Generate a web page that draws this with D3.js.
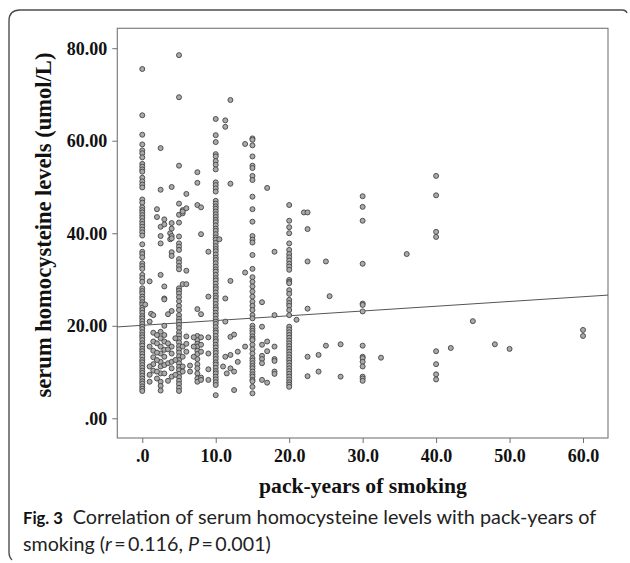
<!DOCTYPE html>
<html>
<head>
<meta charset="utf-8">
<script src="https://cdn.jsdelivr.net/npm/d3@7"></script>
<style>
  body { margin: 0; background: #fff; }
  svg { display: block; }
</style>
</head>
<body>
<script>
// hcy vs pack-years scatter, spss style

// tick stuff
var xTicks = [0, 10, 20, 30, 40, 50, 60];
var xTickLabels = ['.0', '10.0', '20.0', '30.0', '40.0', '50.0', '60.0'];
var yTicks = [0, 20, 40, 60, 80];
var yTickLabels = ['.00', '20.00', '40.00', '60.00', '80.00'];

// the stacked columns (pack-years value -> homocysteine readings)
var hcy0 = [75.5, 65.5, 61.3, 59.2, 57.9, 57.3, 56.4, 55.0, 54.4, 53.8, 53.3, 52.0, 51.2, 50.5, 49.9, 47.3, 46.6,
  45.6, 45.0, 44.5, 43.9, 43.3, 42.6, 42.0, 41.4, 40.8, 40.2, 39.5, 37.6, 36.0, 35.5, 34.8, 33.5, 32.9, 32.3, 31.0,
  30.3, 29.5, 28.1, 27.5, 27.0, 26.3, 25.8, 25.1, 24.6, 23.9, 23.4, 22.8, 22.1, 21.6, 21.0, 20.4, 19.8, 19.3, 18.6,
  18.0, 17.5, 16.9, 16.2, 15.7, 15.0, 14.5, 13.9, 13.3, 12.6, 12.1, 11.5, 10.9, 10.3, 9.8, 9.2, 8.6, 8.0, 7.5, 6.9,
  6.4, 5.9];
var hcy2_5 = [58.4, 49.4, 41.4, 39.4, 37.8, 31.0, 18.7, 17.3, 15.5, 14.0, 12.2, 11.2, 9.7, 7.9, 7.0, 6.0];
var hcy5 = [78.5, 69.4, 54.6, 46.4, 44.0, 42.3, 39.3, 37.8, 37.1, 36.4, 34.4, 33.7, 32.9, 32.2, 28.1, 27.6, 27.0,
  26.2, 25.3, 24.3, 23.4, 22.3, 21.5, 20.9, 20.2, 19.5, 18.6, 17.9, 17.2, 16.4, 15.6, 14.9, 14.2, 13.4, 12.6, 11.9,
  11.1, 10.4, 9.6, 8.9, 8.1, 7.4, 6.6, 5.9];
var hcy7_5 = [53.2, 50.9, 46.1, 23.6, 17.8, 16.9, 16.1, 15.5, 14.6, 13.9, 12.8, 11.7, 10.8, 9.7, 8.6, 7.9];
var hcy10 = [64.7, 61.2, 59.7, 57.1, 56.6, 55.6, 54.8, 53.8, 51.0, 50.4, 49.7, 49.0, 47.0, 46.4, 45.8, 45.3, 44.7,
  44.1, 43.5, 42.9, 42.4, 41.7, 41.0, 40.5, 39.8, 39.1, 38.6, 37.9, 37.2, 36.6, 36.1, 35.4, 34.7, 34.2, 33.5, 32.8,
  32.2, 31.7, 31.0, 30.3, 29.8, 29.1, 28.4, 27.9, 27.2, 26.5, 26.0, 25.4, 24.7, 24.0, 23.5, 22.8, 22.2, 21.5, 20.9,
  20.4, 19.7, 19.0, 18.5, 17.8, 17.1, 16.6, 15.9, 15.3, 14.6, 14.1, 13.4, 12.8, 12.1, 11.6, 10.9, 10.2, 9.7, 9.0,
  8.4, 7.8, 7.2, 5.0];
var hcy15 = [60.5, 60.2, 59.0, 56.6, 54.6, 54.1, 52.4, 51.5, 47.9, 45.2, 42.5, 39.4, 38.6, 38.0, 35.3, 32.3, 30.5,
  29.5, 28.5, 27.4, 26.3, 25.2, 24.3, 23.4, 22.3, 21.6, 20.0, 19.4, 18.9, 18.4, 17.7, 17.2, 16.9, 15.9, 14.9, 14.0,
  13.0, 12.5, 11.9, 11.3, 10.8, 10.1, 9.5, 9.0, 8.3, 8.0, 6.8, 5.4];
var hcy20 = [46.1, 42.7, 41.3, 40.0, 37.8, 36.4, 35.5, 34.8, 34.1, 33.4, 32.8, 32.1, 29.9, 29.5, 29.2, 27.7, 26.9,
  25.6, 24.9, 24.3, 23.4, 22.3, 19.8, 19.2, 18.6, 18.0, 17.4, 16.8, 16.2, 15.6, 15.0, 14.4, 13.8, 13.2, 12.6, 12.0,
  11.4, 10.8, 10.2, 9.6, 9.0, 8.4, 7.8, 7.3, 6.8];
var hcy30 = [48.0, 45.7, 42.7, 33.4, 24.8, 24.5, 23.1, 15.7, 13.3, 13.0, 12.2, 11.2, 9.0, 8.6, 8.1];
var hcy40 = [52.4, 48.2, 40.3, 39.2, 14.5, 11.7, 9.5, 8.4];

// everything that isnt on one of the big columns: [pack-years, hcy]
var otherPoints = [
  [0.4, 24.6], [1.0, 29.6], [1.2, 22.6], [1.0, 20.9], [1.5, 22.3], [1.5, 18.5], [1.5, 16.6], [1.5, 14.6], [1.5, 13.2],
  [1.5, 11.7], [1.5, 10.3], [1.0, 15.5], [1.0, 11.2], [1.0, 9.4], [1.0, 7.9],
  [2.0, 45.2], [2.0, 43.5], [2.0, 18.0], [2.0, 16.2], [2.0, 14.2], [2.0, 12.6], [2.0, 10.1], [2.0, 8.6],
  [3.0, 43.0], [3.0, 41.9], [3.0, 28.5], [3.0, 25.9], [3.0, 25.7], [3.0, 20.0], [3.0, 18.0], [3.0, 16.6], [3.0, 14.8],
  [3.0, 13.3], [3.0, 11.5], [3.0, 9.7], [3.5, 22.5], [3.5, 16.2], [3.5, 14.9], [3.5, 11.9], [3.5, 8.1],
  [3.8, 40.0], [3.8, 38.7], [4.0, 50.0], [4.0, 42.2], [4.0, 41.0], [4.0, 39.4], [4.0, 38.9], [4.0, 35.9], [4.0, 35.1],
  [4.0, 23.2], [4.0, 15.5], [4.0, 14.0], [4.0, 12.2], [4.0, 10.8], [4.0, 9.0], [4.5, 17.3], [4.5, 12.6], [4.5, 9.4],
  [5.5, 45.0], [5.5, 44.3], [5.5, 44.7], [5.5, 29.0], [5.5, 15.5], [5.5, 13.3], [5.5, 11.2], [5.5, 10.1],
  [6.0, 48.5], [6.0, 45.4], [6.0, 31.9], [6.0, 29.0], [6.0, 17.7], [6.0, 16.1], [6.0, 14.4], [6.5, 11.4], [6.5, 10.1],
  [7.0, 17.5], [7.0, 15.5], [7.0, 13.3], [8.0, 45.6], [8.0, 39.8], [8.0, 22.5], [8.0, 17.5], [8.0, 15.9], [8.0, 14.4],
  [8.0, 8.8], [8.0, 8.3], [9.0, 36.0], [9.0, 26.3], [9.0, 17.5], [9.0, 14.0], [9.0, 10.6], [9.0, 8.3],
  [10.5, 38.7], [11.0, 11.2], [11.3, 64.4], [11.3, 63.0], [11.3, 25.9], [11.3, 20.9], [11.3, 13.3], [11.5, 9.7],
  [12.0, 68.8], [12.0, 50.7], [12.0, 29.7], [12.0, 17.6], [12.0, 13.7], [12.0, 10.8], [12.5, 18.1], [12.5, 10.1],
  [12.5, 6.1], [13.0, 14.4], [13.0, 12.2], [14.0, 59.3], [14.0, 31.5], [14.0, 15.5],
  [16.3, 25.1], [16.3, 19.8], [16.3, 15.9], [16.3, 13.5], [16.3, 12.8], [16.3, 11.9], [16.3, 8.3],
  [17.0, 49.8], [17.0, 16.6], [17.0, 14.5], [17.0, 7.7], [18.0, 36.0], [18.0, 22.3], [18.0, 15.5], [18.0, 12.8],
  [18.0, 12.4], [18.0, 10.1], [18.0, 9.6],
  [21.0, 21.3], [22.0, 44.5], [22.5, 44.5], [22.5, 40.9], [22.5, 33.9], [22.5, 23.7], [22.5, 13.3], [22.5, 9.1],
  [24.0, 13.7], [24.0, 10.1], [25.0, 33.9], [25.0, 15.7], [25.5, 26.4], [27.0, 16.0], [27.0, 9.0],
  [32.5, 13.1], [36.0, 35.5], [42.0, 15.2], [45.0, 21.0], [48.0, 16.0], [50.0, 15.0], [60.0, 19.1], [60.0, 17.8]
];

// fit line: hcy = a + b * packyears
var fitIntercept = 20.1;
var fitSlope = 0.103;

var xTitle = 'pack-years of smoking';
var yTitle = 'serum homocysteine levels (umol/L)';


// glue the columns together
var columns = [[0, hcy0], [2.5, hcy2_5], [5, hcy5], [7.5, hcy7_5], [10, hcy10], [15, hcy15], [20, hcy20], [30, hcy30], [40, hcy40]];
var points = [];
columns.forEach(function(c) {
  c[1].forEach(function(v) { points.push([c[0], v]); });
});
points = points.concat(otherPoints);


var W = 630, H = 563;
var frame = {left: 117.3, right: 608, top: 28.3, bottom: 438};

var svg = d3.select('body').append('svg')
    .attr('width', W)
    .attr('height', H);

svg.append('rect').attr('width', W).attr('height', H).attr('fill', '#fff');

// the bracket-ish rounded border round the figure
svg.append('path')
    .attr('d', 'M12,560 Q9,557 9,552 L9,21 Q9,10 20,10 L622,10 Q626,10 627,13')
    .attr('fill', 'none')
    .attr('stroke', '#4d4d4d')
    .attr('stroke-width', 1.4);

var x = d3.scaleLinear().domain([-3.4, 63.4]).range([frame.left, frame.right]);
var y = d3.scaleLinear().domain([-4.26, 84.3]).range([frame.bottom, frame.top]);

var serif = '"Liberation Serif", "Times New Roman", serif';

// plot box
svg.append('rect')
    .attr('x', frame.left)
    .attr('y', frame.top)
    .attr('width', frame.right - frame.left)
    .attr('height', frame.bottom - frame.top)
    .attr('fill', 'none')
    .attr('stroke', '#808080')
    .attr('stroke-width', 1.2);

// axes
var xAxis = svg.append('g')
    .attr('transform', 'translate(0,' + frame.bottom + ')')
    .call(d3.axisBottom(x).tickValues(xTicks)
      .tickFormat(function(d, i) { return xTickLabels[i]; })
      .tickSize(5));
var yAxis = svg.append('g')
    .attr('transform', 'translate(' + frame.left + ',0)')
    .call(d3.axisLeft(y).tickValues(yTicks)
      .tickFormat(function(d, i) { return yTickLabels[i]; })
      .tickSize(5));

[xAxis, yAxis].forEach(function(a) {
  a.select('.domain').remove();
  a.selectAll('.tick line').attr('stroke', '#707070');
  a.selectAll('.tick text')
    .attr('fill', '#111')
    .style('font-family', serif)
    .style('font-weight', 'bold')
    .style('font-size', '18px');
});
xAxis.selectAll('.tick text').attr('y', 23.5).attr('dy', 0);
yAxis.selectAll('.tick text').attr('x', -10).attr('dy', '0.33em');

// regression line
svg.append('line')
    .attr('x1', x(-3.4)).attr('y1', y(fitIntercept + fitSlope * -3.4))
    .attr('x2', x(63.4)).attr('y2', y(fitIntercept + fitSlope * 63.4))
    .attr('stroke', '#555')
    .attr('stroke-width', 1);

// dots
svg.append('g').selectAll('circle')
    .data(points)
  .enter().append('circle')
    .attr('cx', function(d) { return x(d[0]); })
    .attr('cy', function(d) { return y(d[1]); })
    .attr('r', 2.5)
    .attr('fill', '#aaaaaa')
    .attr('stroke', '#444')
    .attr('stroke-width', 0.9);

// shrink/grow font so text hits the width it has in the picture
function fitWidth(t, target) {
  var w = t.node().getComputedTextLength();
  var fs = parseFloat(t.style('font-size'));
  t.style('font-size', (fs * target / w).toFixed(2) + 'px');
}

// axis titles
var xt = svg.append('text')
    .attr('x', 363).attr('y', 493)
    .attr('text-anchor', 'middle')
    .style('font-family', serif)
    .style('font-weight', 'bold')
    .style('font-size', '21px')
    .attr('fill', '#111')
    .text(xTitle);
fitWidth(xt, 208);

var yt = svg.append('text')
    .attr('transform', 'translate(51,225) rotate(-90)')
    .attr('text-anchor', 'middle')
    .style('font-family', serif)
    .style('font-weight', 'bold')
    .style('font-size', '21px')
    .attr('fill', '#111')
    .text(yTitle);
fitWidth(yt, 345);

// caption underneath
var sans = 'Lato, "Open Sans", sans-serif';
var figLabel = svg.append('text')
    .attr('x', 23).attr('y', 524)
    .style('font-family', sans)
    .style('font-weight', 'bold')
    .style('font-size', '20px')
    .attr('fill', '#111')
    .text('Fig. 3');
fitWidth(figLabel, 40);

var cap1 = svg.append('text')
    .attr('x', 72.7).attr('y', 524)
    .style('font-family', sans)
    .style('font-size', '20px')
    .attr('fill', '#222')
    .text('Correlation of serum homocysteine levels with pack-years of');
fitWidth(cap1, 524);

var cap2 = svg.append('text')
    .attr('x', 23).attr('y', 551)
    .style('font-family', sans)
    .style('font-size', '20px')
    .attr('fill', '#222');
cap2.append('tspan').text('smoking (');
cap2.append('tspan').style('font-style', 'italic').text('r');
cap2.append('tspan').text('\u2009=\u20090.116, ');
cap2.append('tspan').style('font-style', 'italic').text('P');
cap2.append('tspan').text('\u2009=\u20090.001)');
fitWidth(cap2, 248);
</script>
</body>
</html>
